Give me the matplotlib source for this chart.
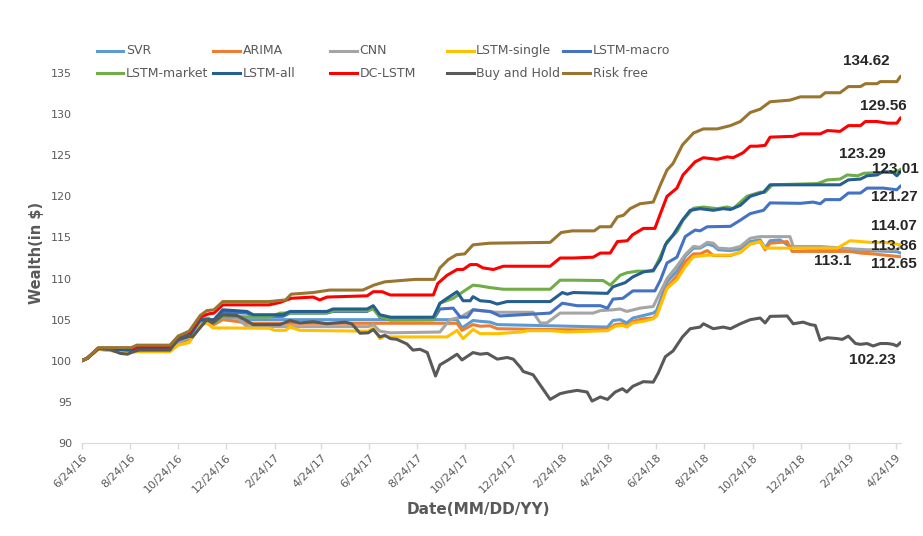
import numpy as np
import pandas as pd
import matplotlib
matplotlib.use('Agg')
import matplotlib.pyplot as plt
from matplotlib.lines import Line2D

# ── data: (week since 6/24/16, wealth) knots ──
start = pd.Timestamp('2016-06-24')

svr = [(0, 100), (1, 100.3), (3, 101.5), (9, 101.2), (10, 101.4), (16, 101.4), (17.5, 102.4),
       (19.5, 103.0), (21.5, 104.8), (23, 105.0), (24, 104.7), (25.6, 105.2), (28, 105.2),
       (30, 105.0), (68.1, 105.0), (69, 104.0), (71, 104.9), (72.3, 104.8), (74.1, 104.7),
       (75.4, 104.4), (95.4, 104.1), (96.4, 104.9), (97.7, 105.0), (98.9, 104.6), (100, 105.2),
       (101.9, 105.5), (103.7, 105.8), (104.3, 106.1), (106.2, 109.6), (108, 110.9),
       (109.5, 112.7), (111, 113.7), (112.2, 113.7), (113.5, 114.2), (114.6, 114.0),
       (115.5, 113.5), (117.7, 113.4), (119.5, 113.6), (121.3, 114.5), (123.1, 114.7),
       (124, 113.7), (124.9, 114.6), (126.7, 114.7), (128.5, 113.9), (130.9, 113.7),
       (147.9, 113.27), (148.6, 113.1)]

arima = [(0, 100), (1, 100.3), (3, 101.4), (9, 101.0), (10, 101.2), (16, 101.2), (17.5, 102.2),
         (19.5, 102.6), (21.5, 104.5), (23, 104.7), (24, 104.4), (25.6, 105.0), (28, 104.8),
         (30, 104.56), (68.1, 104.56), (69, 103.7), (71, 104.4), (72.3, 104.2), (74.1, 104.25),
         (75.4, 103.9), (85, 103.8), (91, 103.75), (95.4, 103.8), (96.8, 104.4), (98.1, 104.5),
         (98.9, 104.2), (100, 104.8), (101.9, 105.1), (103.7, 105.2), (104.3, 105.6),
         (106.2, 109.0), (108, 110.3), (109.5, 112.05), (111, 113.0), (112.2, 113.0),
         (113.5, 113.4), (114.6, 112.8), (117.7, 112.8), (119.5, 113.2), (121.3, 114.2),
         (123.1, 114.5), (124, 113.5), (124.9, 114.3), (126.7, 114.4), (128, 114.5),
         (128.9, 113.3), (139.4, 113.3), (141.3, 113.1), (143.6, 113.0), (144.9, 112.9),
         (148.6, 112.65)]

cnn = [(0, 100), (1, 100.3), (3, 101.5), (9, 101.2), (10, 101.3), (16, 101.3), (17.5, 102.3),
       (19.5, 102.8), (21.5, 104.7), (23, 104.9), (24, 104.6), (25.6, 105.3), (28, 105.3),
       (30, 104.15), (52, 104.15), (52.9, 104.4), (54.1, 103.6), (56, 103.4), (65, 103.5),
       (66.8, 105.0), (68.7, 105.3), (71, 106.2), (73.6, 106.0), (75.4, 105.9), (81.9, 105.9),
       (83.2, 104.6), (84.4, 104.6), (86.8, 105.8), (92.8, 105.8), (94.1, 106.1), (96.4, 106.2),
       (97.7, 106.3), (98.9, 106.0), (101.3, 106.4), (103.7, 106.6), (106.2, 110.0),
       (108, 111.5), (109.5, 112.9), (111, 113.9), (112.2, 113.8), (113.5, 114.4),
       (114.6, 114.3), (115.5, 113.7), (117.7, 113.6), (119.5, 113.9), (121.3, 114.9),
       (123.1, 115.1), (128.5, 115.1), (129.1, 113.9), (134, 113.9), (140, 113.6),
       (142.5, 113.5), (147.9, 113.5), (148.6, 113.86)]

lstm_single = [(0, 100), (1, 100.3), (3, 101.4), (9, 101.0), (10, 101.1), (16, 101.1),
               (17.5, 101.9), (19.5, 102.2), (21.5, 104.3), (22.7, 104.6), (23.8, 104.0),
               (34, 103.95), (35, 103.7), (37, 103.7), (37.8, 104.1), (39.6, 103.7), (52, 103.6),
               (52.9, 104.0), (54.1, 102.7), (55, 103.0), (56, 102.9), (66.3, 102.9),
               (68.1, 103.7), (69.2, 102.7), (71, 103.8), (72.3, 103.3), (75.4, 103.3),
               (79.6, 103.5), (81, 103.66), (85, 103.66), (88.1, 103.5), (95.4, 103.66),
               (96.8, 104.2), (98.1, 104.3), (98.9, 104.1), (100, 104.6), (101.9, 104.8),
               (103.7, 105.1), (104.3, 105.4), (106.2, 108.8), (108, 109.85), (109.5, 111.45),
               (111, 112.65), (113.5, 112.85), (117.7, 112.85), (119.5, 113.2), (121.3, 114.2),
               (123.1, 114.5), (124, 113.7), (137.1, 113.7), (139.4, 114.6), (141.3, 114.5),
               (143.1, 114.4), (145.4, 114.4), (147.2, 114.3), (148.6, 114.07)]

lstm_macro = [(0, 100), (1, 100.3), (3, 101.5), (9, 101.3), (10, 101.5), (16, 101.5),
              (17.5, 102.5), (19.5, 103.0), (21.5, 104.9), (23, 105.0), (24, 104.9),
              (25.6, 105.9), (30, 105.8), (31.1, 105.4), (36.5, 105.4), (37.8, 105.8),
              (44.5, 105.8), (45.6, 106.0), (51.8, 106.0), (52.9, 106.6), (54.1, 105.3),
              (56, 105.0), (63.8, 105.0), (65, 106.3), (67.4, 106.4), (68.7, 105.3), (70, 105.3),
              (71, 106.2), (74.1, 106.0), (75.9, 105.45), (85, 105.8), (87.2, 107.0),
              (88.1, 106.9), (89.9, 106.7), (94.1, 106.7), (95.4, 106.4), (96.4, 107.5),
              (98.2, 107.6), (100, 108.5), (104, 108.5), (105, 109.8), (106.2, 111.9),
              (108, 112.6), (109.5, 115.1), (111.3, 115.9), (112.2, 115.8), (113.5, 116.3),
              (117.7, 116.35), (119.5, 117.1), (121.3, 117.9), (123.7, 118.3), (124.9, 119.2),
              (130.4, 119.15), (132.7, 119.3), (134, 119.1), (134.9, 119.6), (137.6, 119.6),
              (139.1, 120.4), (141.3, 120.4), (142.5, 121.0), (145.4, 121.0), (147.9, 120.8),
              (148.6, 121.27)]

lstm_market = [(0, 100), (1, 100.3), (3, 101.5), (9, 101.4), (10, 101.6), (16, 101.6),
               (17.5, 102.6), (19.5, 103.2), (21.5, 105.0), (23, 105.2), (24, 104.6),
               (25.6, 105.4), (34, 105.3), (36, 105.8), (44, 105.8), (46, 106.1), (52, 106.1),
               (52.9, 106.3), (54, 105.4), (56, 104.96), (63.8, 105.0), (65, 107.0),
               (67.4, 107.6), (69.2, 108.4), (71, 109.2), (72.3, 109.1), (74.1, 108.9),
               (76.5, 108.7), (85, 108.7), (86.8, 109.8), (89.2, 109.8), (94.6, 109.76),
               (95.9, 109.2), (97.7, 110.4), (98.9, 110.7), (100.8, 110.9), (103.7, 110.9),
               (105, 112.7), (106.2, 114.5), (108, 115.7), (109.1, 117.1), (111, 118.55),
               (112.8, 118.7), (115.3, 118.5), (117.1, 118.7), (118.2, 118.5), (120.7, 120.0),
               (123.1, 120.5), (124, 120.5), (125.3, 121.4), (133.5, 121.55), (135.3, 122.0),
               (137.6, 122.1), (138.9, 122.6), (140.8, 122.5), (141.9, 122.8), (147.9, 123.0),
               (148.6, 123.29)]

lstm_all = [(0, 100), (1, 100.3), (3, 101.5), (9, 101.3), (10, 101.5), (16, 101.5),
            (17.5, 102.6), (19.5, 103.0), (21.5, 105.0), (24, 105.0), (25.6, 106.2), (30, 106.0),
            (31.1, 105.6), (36.5, 105.6), (37.8, 106.0), (44.5, 106.0), (45.6, 106.3),
            (51.8, 106.3), (52.9, 106.7), (54.1, 105.6), (56, 105.3), (63.8, 105.3),
            (65, 107.0), (66.3, 107.6), (68.1, 108.4), (69.2, 107.3), (70.5, 107.3),
            (71, 107.8), (72.3, 107.3), (74.1, 107.2), (75.4, 106.9), (77.2, 107.2), (85, 107.2),
            (87.2, 108.3), (88.1, 108.1), (89.2, 108.3), (95.4, 108.2), (96.4, 109.0),
            (98.6, 109.5), (100, 110.2), (101.9, 110.8), (103.7, 111.0), (105, 112.3),
            (105.9, 114.1), (107.3, 115.3), (109, 117.1), (110.4, 118.3), (112.2, 118.5),
            (114.6, 118.3), (116.4, 118.5), (117.7, 118.4), (119.5, 118.9), (121.3, 120.0),
            (123.7, 120.5), (124.9, 121.4), (137.6, 121.4), (139.1, 122.0), (141.3, 122.1),
            (142.5, 122.5), (144.3, 122.6), (145.4, 123.0), (147.2, 122.9), (147.9, 122.5),
            (148.6, 123.01)]

dc_lstm = [(0, 100), (1, 100.3), (3, 101.5), (9, 101.5), (10, 101.7), (16, 101.7),
           (17.5, 102.8), (19.5, 103.4), (21.5, 105.3), (23, 105.7), (24, 105.8), (25.6, 106.8),
           (34, 106.8), (36, 107.1), (38, 107.6), (42, 107.75), (43.2, 107.4), (44.5, 107.75),
           (51.8, 107.9), (52.9, 108.4), (54.5, 108.4), (56, 108.0), (63.8, 108.0),
           (64.6, 109.4), (66.3, 110.4), (68.1, 111.1), (69.2, 111.1), (70.5, 111.7),
           (71.7, 111.7), (72.8, 111.3), (74.7, 111.1), (76.5, 111.5), (85, 111.5),
           (86.8, 112.5), (89.2, 112.5), (92.8, 112.6), (94.1, 113.1), (95.9, 113.1),
           (97.2, 114.5), (99, 114.6), (99.9, 115.3), (101.9, 116.1), (104, 116.1),
           (105, 117.9), (106.2, 120.0), (108, 121.0), (109.1, 122.6), (111.3, 124.2),
           (112.8, 124.7), (115.3, 124.5), (117.1, 124.8), (118.2, 124.7), (120, 125.3),
           (121.3, 126.1), (122.5, 126.1), (124, 126.2), (124.9, 127.2), (129.1, 127.3),
           (130.4, 127.6), (134, 127.6), (135.3, 128.0), (137.6, 127.9), (139.1, 128.6),
           (141.3, 128.6), (142.2, 129.1), (144.3, 129.1), (146.2, 128.9), (147.9, 128.9),
           (148.6, 129.56)]

buy_hold = [(0, 100), (1, 100.3), (3, 101.5), (5, 101.4), (7, 100.9), (8.3, 100.8),
            (9.3, 101.1), (10.4, 101.3), (16, 101.3), (17.3, 102.5), (19, 103.1), (20.1, 102.9),
            (22.7, 105.0), (23.8, 104.6), (25.6, 105.6), (28.2, 105.5), (30, 104.85),
            (31.1, 104.4), (36, 104.4), (37.8, 104.9), (39.6, 104.6), (42, 104.75),
            (44.5, 104.5), (46, 104.6), (47.8, 104.7), (49, 104.5), (50.5, 103.35),
            (52, 103.4), (52.9, 103.8), (54.1, 102.9), (55, 103.1), (56, 102.7), (57.2, 102.6),
            (59, 102.05), (60.1, 101.3), (61.4, 101.4), (62.7, 101.0), (64.2, 98.15),
            (65, 99.5), (66.5, 100.1), (68.1, 100.8), (69, 100.1), (71, 101.0), (72.3, 100.8),
            (73.6, 100.9), (75.4, 100.2), (77.2, 100.4), (78.3, 100.2), (79.6, 99.2),
            (80.1, 98.7), (81.9, 98.3), (85, 95.3), (86.8, 96.0), (88.1, 96.2), (89.9, 96.4),
            (91.7, 96.2), (92.6, 95.1), (94.1, 95.6), (95.4, 95.3), (96.8, 96.2), (98.1, 96.6),
            (98.9, 96.2), (100, 96.9), (101.9, 97.46), (103.7, 97.4), (104.6, 98.5),
            (105.9, 100.5), (107.3, 101.2), (109, 102.9), (110.4, 103.9), (112.2, 104.1),
            (112.8, 104.5), (114.6, 103.9), (116.4, 104.1), (117.7, 103.9), (119.5, 104.5),
            (121.3, 105.0), (123.1, 105.2), (124, 104.6), (124.9, 105.4), (128, 105.45),
            (129.1, 104.5), (130.9, 104.7), (132.2, 104.4), (133.1, 104.3), (134, 102.5),
            (135.3, 102.8), (137.1, 102.7), (138, 102.6), (139.1, 103.0), (140.4, 102.1),
            (141.3, 102.0), (142.5, 102.1), (143.6, 101.8), (144.9, 102.1), (146.2, 102.1),
            (147.2, 102.0), (147.9, 101.8), (148.6, 102.23)]

risk_free = [(0, 100), (1, 100.3), (3, 101.6), (9, 101.6), (10, 101.9), (16, 101.9),
             (17.5, 103.0), (19.5, 103.6), (21.5, 105.5), (22.7, 106.1), (24, 106.2),
             (25.6, 107.2), (34, 107.2), (37, 107.4), (38, 108.1), (42, 108.3), (45, 108.6),
             (51, 108.6), (53, 109.2), (55, 109.6), (60.5, 109.9), (64, 109.9), (65, 111.3),
             (66.5, 112.3), (68, 112.9), (69.5, 113.0), (71, 114.1), (74, 114.3), (85, 114.4),
             (87, 115.6), (89, 115.8), (93, 115.8), (94, 116.3), (96, 116.3), (97.2, 117.5),
             (98.3, 117.7), (99.5, 118.5), (101.3, 119.1), (103.7, 119.3), (105, 121.4),
             (106.2, 123.2), (107.3, 124.0), (109, 126.25), (111, 127.7), (112.8, 128.2),
             (115.3, 128.2), (117.7, 128.6), (119.5, 129.1), (121.3, 130.2), (123.1, 130.6),
             (124.9, 131.5), (128.5, 131.7), (130.4, 132.1), (134, 132.1), (134.9, 132.6),
             (137.6, 132.6), (139.1, 133.35), (141.3, 133.35), (142.2, 133.7), (144.3, 133.7),
             (144.9, 133.95), (147.9, 133.95), (148.6, 134.62)]

names = ['SVR', 'ARIMA', 'CNN', 'LSTM-single', 'LSTM-macro',
         'LSTM-market', 'LSTM-all', 'DC-LSTM', 'Buy and Hold', 'Risk free']
series = [svr, arima, cnn, lstm_single, lstm_macro,
          lstm_market, lstm_all, dc_lstm, buy_hold, risk_free]
colors = ['#5B9BD5', '#ED7D31', '#A5A5A5', '#FFC000', '#4472C4',
          '#70AD47', '#255E91', '#FF0000', '#595959', '#9A7530']

# final-value labels and where they sit (week, wealth)
end_labels = ['134.62', '129.56', '123.29', '123.01', '121.27',
              '114.07', '113.86', '113.1', '112.65', '102.23']
end_label_pos = [(142.3, 136.5), (145.4, 131.0), (141.6, 125.2), (147.6, 123.35),
                 (147.4, 119.95), (147.4, 116.4), (147.4, 113.95), (136.2, 112.15),
                 (147.4, 111.8), (143.4, 100.1)]


def wk_to_date(w):
    return start + pd.to_timedelta(np.asarray(w) * 7, unit='D')


plt.rcParams['font.family'] = ['DejaVu Sans']

W, H = 923, 536
fig = plt.figure(figsize=(W / 100, H / 100), dpi=100)
ax = fig.add_axes([81.7 / W, (H - 443) / H, 819 / W, 370 / H])

for pts, name, c in zip(series, names, colors):
    wk, val = zip(*pts)
    ax.plot(wk_to_date(wk), val, color=c, linewidth=2.2, label=name,
            solid_joinstyle='round', solid_capstyle='round')

ax.set_ylim(90, 135)
ax.set_yticks(np.arange(90, 136, 5))
ax.set_xlim(start, wk_to_date(148.6))
ticks = [start + pd.DateOffset(months=2 * i) for i in range(18)]
ax.set_xticks(ticks)
ax.set_xticklabels([f'{d.month}/{d.day}/{d.year % 100:02d}' for d in ticks],
                   rotation=45, ha='right', rotation_mode='anchor')

for s in ['top', 'right', 'left']:
    ax.spines[s].set_visible(False)
ax.spines['bottom'].set_color('#D9D9D9')
ax.tick_params(axis='x', colors='#D9D9D9', length=4, width=1, labelsize=8,
               labelcolor='#595959', pad=3)
ax.tick_params(axis='y', length=0, labelsize=8, labelcolor='#595959', pad=7)

fig.text(37 / W, 1 - 253 / H, 'Wealth(in $)', rotation=90, ha='center', va='center',
         fontsize=10.5, fontweight='bold', color='#595959')
fig.text(478 / W, 1 - 510 / H, 'Date(MM/DD/YY)', ha='center', va='center',
         fontsize=11, fontweight='bold', color='#595959')

for txt, (w, v) in zip(end_labels, end_label_pos):
    ax.text(wk_to_date(w), v, txt, ha='center', va='center', fontsize=11,
            fontweight='bold', color='#262626', family='Liberation Sans', clip_on=False)

# legend: fixed-width columns like the source
for i, (name, c) in enumerate(zip(names, colors)):
    row, col = divmod(i, 5)
    x0 = 96.5 + col * 116.7
    y = 1 - (50.7 + row * 22.6) / H
    fig.add_artist(Line2D([x0 / W, (x0 + 27) / W], [y, y], color=c, linewidth=2.2,
                          transform=fig.transFigure))
    fig.text((x0 + 29.5) / W, y, name, ha='left', va='center', fontsize=9,
             color='#595959')

fig.savefig('out.png', dpi=100)
